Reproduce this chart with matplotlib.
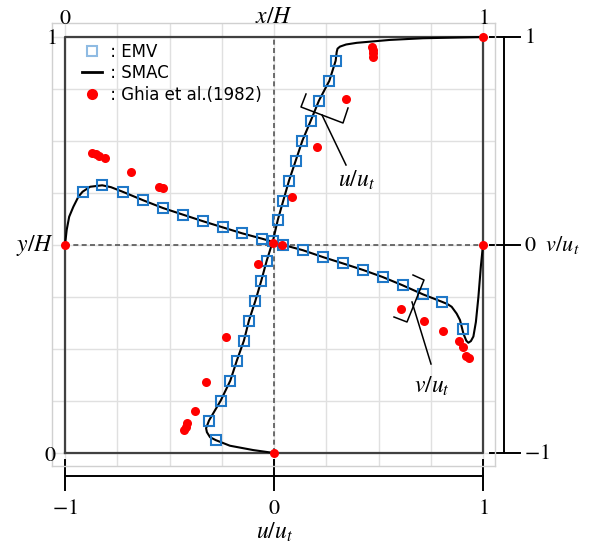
import matplotlib
matplotlib.use('Agg')
import matplotlib.pyplot as plt
from matplotlib.lines import Line2D

plt.rcParams['mathtext.fontset'] = 'stix'
plt.rcParams['font.family'] = ['DejaVu Sans']

# EMV, u along the vertical centreline
emv_y = [0.031, 0.078, 0.126, 0.174, 0.222, 0.270, 0.318, 0.366, 0.414, 0.462,
         0.510, 0.560, 0.606, 0.655, 0.703, 0.751, 0.799, 0.847, 0.895, 0.943]
emv_u = [-0.279, -0.311, -0.255, -0.209, -0.178, -0.144, -0.120, -0.089, -0.061, -0.035,
         -0.005, 0.018, 0.044, 0.072, 0.104, 0.136, 0.176, 0.215, 0.265, 0.295]

# EMV, v along the horizontal centreline
emv_x = [0.042, 0.089, 0.138, 0.187, 0.234, 0.282, 0.329, 0.377, 0.424, 0.472,
         0.521, 0.569, 0.617, 0.664, 0.713, 0.760, 0.808, 0.856, 0.903, 0.951]
emv_v = [0.256, 0.287, 0.256, 0.215, 0.178, 0.146, 0.115, 0.085, 0.056, 0.030,
         0.001, -0.025, -0.058, -0.088, -0.120, -0.154, -0.194, -0.237, -0.274, -0.404]

# SMAC
smac_y = [0.0, 0.007, 0.0175, 0.031, 0.038, 0.050, 0.0594, 0.078, 0.126, 0.174, 0.222,
          0.270, 0.318, 0.366, 0.414, 0.462, 0.510, 0.560, 0.606, 0.655, 0.703, 0.751,
          0.799, 0.847, 0.895, 0.943, 0.964, 0.972, 0.977, 0.982, 0.986, 0.993, 0.997, 1.0]
smac_u = [0.0, -0.099, -0.211, -0.279, -0.306, -0.321, -0.325, -0.311, -0.255, -0.209, -0.178,
          -0.144, -0.120, -0.089, -0.061, -0.035, -0.005, 0.018, 0.044, 0.072, 0.104, 0.136,
          0.176, 0.215, 0.265, 0.295, 0.300, 0.304, 0.316, 0.345, 0.396, 0.555, 0.713, 1.0]
smac_x = [0.0, 0.004, 0.010, 0.020, 0.032, 0.042, 0.060, 0.089, 0.110, 0.138, 0.187, 0.234,
          0.282, 0.329, 0.377, 0.424, 0.472, 0.521, 0.569, 0.617, 0.664, 0.713, 0.760,
          0.808, 0.856, 0.903, 0.915, 0.925, 0.937, 0.945, 0.953, 0.960, 0.965, 0.971,
          0.977, 0.983, 0.989, 0.995, 1.0]
smac_v = [0.0, 0.072, 0.136, 0.184, 0.232, 0.256, 0.280, 0.287, 0.278, 0.256, 0.215, 0.178,
          0.146, 0.115, 0.085, 0.056, 0.030, 0.001, -0.025, -0.058, -0.088, -0.120, -0.154,
          -0.194, -0.237, -0.274, -0.284, -0.297, -0.330, -0.361, -0.425, -0.460, -0.470, -0.462,
          -0.440, -0.370, -0.250, -0.100, 0.0]

# Ghia et al. (1982)
ghia_y = [1.0, 0.977, 0.969, 0.961, 0.953, 0.851, 0.735, 0.616, 0.505, 0.454, 0.280,
          0.171, 0.102, 0.073, 0.063, 0.055, 0.0]
ghia_u = [1.0, 0.467, 0.472, 0.475, 0.475, 0.344, 0.204, 0.085, -0.005, -0.078, -0.230,
          -0.327, -0.378, -0.415, -0.423, -0.429, 0.0]
ghia_x = [0.0, 0.065, 0.073, 0.082, 0.096, 0.157, 0.226, 0.235, 0.518, 0.804, 0.858,
          0.904, 0.943, 0.951, 0.959, 0.967, 1.0]
ghia_v = [0.0, 0.441, 0.436, 0.429, 0.417, 0.350, 0.280, 0.273, 0.0, -0.308, -0.367,
          -0.415, -0.460, -0.492, -0.532, -0.542, 0.0]


def u2x(vals):
    return [0.5 + 0.5 * a for a in vals]


def v2y(vals):
    return [0.5 + 0.5 * a for a in vals]


def px(xp, yp):
    # pixel position in the picture -> data coordinates
    return (xp - 65) / 418, (453 - yp) / 416


fig = plt.figure(figsize=(5.91, 5.46), dpi=100)
ax = fig.add_axes([52 / 591, 1 - 466 / 546, 443 / 591, 443 / 546])
ax.set_xlim(-13 / 418, 1 + 12 / 418)
ax.set_ylim(-13 / 416, 1 + 14 / 416)
ax.set_xticks([i / 8 for i in range(9)])
ax.set_yticks([i / 8 for i in range(9)])
ax.tick_params(length=0, labelbottom=False, labelleft=False)
ax.grid(True, color='#e0e0e0', lw=1.0)
for s in ax.spines.values():
    s.set_color('#d0d0d0')
    s.set_linewidth(1.0)

ax.plot([0, 1, 1, 0, 0], [0, 0, 1, 1, 0], color='#404040', lw=1.6, zorder=2)
ax.plot([0.5, 0.5], [0, 1], color='#555555', lw=1.2, ls=(0, (3, 2)), zorder=2)
ax.plot([0, 1], [0.5, 0.5], color='#555555', lw=1.2, ls=(0, (3, 2)), zorder=2)

blue = '#1f78c8'
ax.plot(u2x(smac_u), smac_y, color='black', lw=1.5, zorder=3)
ax.plot(smac_x, v2y(smac_v), color='black', lw=1.5, zorder=3)
ax.plot(u2x(emv_u), emv_y, ls='none', marker='s', ms=7.5, mfc='none', mec=blue, mew=1.5, zorder=4)
ax.plot(emv_x, v2y(emv_v), ls='none', marker='s', ms=7.5, mfc='none', mec=blue, mew=1.5, zorder=4)
ax.plot(u2x(ghia_u), ghia_y, ls='none', marker='o', ms=6.5, color='#ff0000', mec='none', zorder=5,
        clip_on=False)
ax.plot(ghia_x, v2y(ghia_v), ls='none', marker='o', ms=6.5, color='#ff0000', mec='none', zorder=5,
        clip_on=False)

handles = [Line2D([], [], ls='none', marker='s', ms=7.5, mfc='none', mec='#8fbbe3', mew=1.5),
           Line2D([], [], color='black', lw=2),
           Line2D([], [], ls='none', marker='o', ms=8, color='#ff0000', mec='none')]
ax.legend(handles, [' : EMV', ' : SMAC', ' : Ghia et al.(1982)'], loc='upper left',
          bbox_to_anchor=((82 - 52) / 443, (466 - 43) / 443), frameon=False, fontsize=12,
          handlelength=1.2, handletextpad=0.2, labelspacing=0.2, borderpad=0, borderaxespad=0)

# annotation brackets
for pts in ([(306, 94), (301, 107), (343, 123), (348, 108)],
            [(413, 275), (424, 280), (407, 322), (394, 317)]):
    xs, ys = zip(*[px(*p) for p in pts])
    ax.plot(xs, ys, color='black', lw=1.1, zorder=6)
for a, b in (((322, 115), (346, 165)), ((412, 302), (431, 364))):
    x0, y0 = px(*a)
    x1, y1 = px(*b)
    ax.plot([x0, x1], [y0, y1], color='black', lw=1.1, zorder=6)
ax.text(*px(357, 180), r'$u/u_t$', fontsize=17, ha='center', va='center')
ax.text(*px(432, 386), r'$v/u_t$', fontsize=17, ha='center', va='center')

fs = 16
ls = 17
# top and left labels
ax.text(*px(65, 18), r'$0$', fontsize=fs, ha='center', va='center')
ax.text(*px(274, 16), r'$x/H$', fontsize=ls, ha='center', va='center')
ax.text(*px(483, 18), r'$1$', fontsize=fs, ha='center', va='center')
ax.text(*px(57, 38), r'$1$', fontsize=fs, ha='right', va='center')
ax.text(*px(54, 245), r'$y/H$', fontsize=ls, ha='right', va='center')
ax.text(*px(57, 455), r'$0$', fontsize=fs, ha='right', va='center')

# bottom u/u_t axis
bx0, by = px(65, 476)
bx1, _ = px(483, 476)
ax.plot([bx0, bx1], [by, by], color='black', lw=1.4, clip_on=False)
for t, lab in zip([-1, 0, 1], [r'$-1$', r'$0$', r'$1$']):
    xt = 0.5 + 0.5 * t
    _, ya = px(0, 460)
    _, yb = px(0, 490)
    ax.plot([xt, xt], [ya, yb], color='black', lw=1.4, clip_on=False)
    ax.text(xt, px(0, 508)[1], lab, fontsize=fs, ha='center', va='center')
ax.text(*px(275, 532), r'$u/u_t$', fontsize=ls, ha='center', va='center')

# right v/u_t axis
rx, _ = px(504, 0)
ax.plot([rx, rx], [0, 1], color='black', lw=1.4, clip_on=False)
for t, lab in zip([1, 0, -1], [r'$1$', r'$0\ \ v/u_t$', r'$-1$']):
    yt = 0.5 + 0.5 * t
    xa, _ = px(490, 0)
    xb, _ = px(520, 0)
    ax.plot([xa, xb], [yt, yt], color='black', lw=1.4, clip_on=False)
    ax.text(px(524, 0)[0], yt, lab, fontsize=fs, ha='left', va='center')

fig.savefig('out.png', dpi=100, facecolor='white')
